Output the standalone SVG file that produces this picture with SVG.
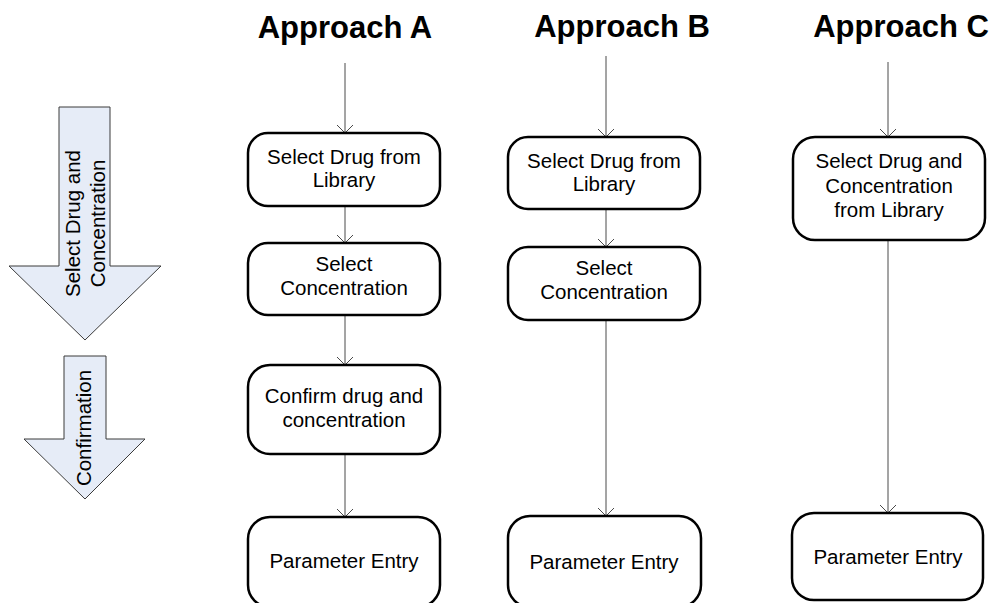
<svg xmlns="http://www.w3.org/2000/svg" width="994" height="603" viewBox="0 0 994 603">
<style>
text{font-family:"Liberation Sans",Arial,sans-serif;fill:#000}
.t{font-size:31px;font-weight:bold;text-anchor:middle}
.l{font-size:20.5px;text-anchor:middle}
.box{fill:#fff;stroke:#000;stroke-width:2.5}
.big{fill:#E6ECF7;stroke:#3a3a3a;stroke-width:1}
.c{stroke:#4a4a4a;stroke-width:1;fill:none;marker-end:url(#ah)}
</style>
<defs>
<marker id="ah" markerUnits="userSpaceOnUse" viewBox="-1 -10 12 20" refX="9" refY="0" markerWidth="12" markerHeight="20" orient="auto" overflow="visible">
<path d="M1,-8 L9,0 L1,8" fill="none" stroke="#4a4a4a" stroke-width="1"/>
</marker>
</defs>
<rect width="994" height="603" fill="#fff"/>

<g id="phase1">
<path class="big" d="M59,107 L110,107 L110,266 L161,266 L85,340 L9,266 L59,266 Z"/>
<text class="l" transform="translate(80,223.5) rotate(-90)">Select Drug and</text>
<text class="l" transform="translate(105,223.5) rotate(-90)">Concentration</text>
</g>
<g id="phase2">
<path class="big" d="M64,356 L106,356 L106,439 L145,439 L85,499 L24,439 L64,439 Z"/>
<text class="l" transform="translate(91,428) rotate(-90)">Confirmation</text>
</g>

<g id="titles">
<text class="t" x="345" y="38">Approach A</text>
<text class="t" x="622" y="37">Approach B</text>
<text class="t" x="901" y="37">Approach C</text>
</g>

<g id="connectors">
<line class="c" x1="345" y1="63" x2="345" y2="133"/>
<line class="c" x1="345" y1="206" x2="345" y2="243"/>
<line class="c" x1="345" y1="315" x2="345" y2="365"/>
<line class="c" x1="345" y1="454" x2="345" y2="517"/>
<line class="c" x1="606" y1="56" x2="606" y2="137"/>
<line class="c" x1="606" y1="209" x2="606" y2="247"/>
<line class="c" x1="606" y1="320" x2="606" y2="516"/>
<line class="c" x1="888" y1="62" x2="888" y2="137"/>
<line class="c" x1="888" y1="240" x2="888" y2="513"/>
</g>

<g id="a1"><rect class="box" x="248" y="133" width="192" height="73" rx="20"/>
<text class="l" x="344" y="164">Select Drug from</text><text class="l" x="344" y="187">Library</text></g>
<g id="a2"><rect class="box" x="248" y="243" width="192" height="72" rx="20"/>
<text class="l" x="344" y="271">Select</text><text class="l" x="344" y="295">Concentration</text></g>
<g id="a3"><rect class="box" x="248" y="365" width="192" height="89" rx="22"/>
<text class="l" x="344" y="403">Confirm drug and</text><text class="l" x="344" y="427">concentration</text></g>
<g id="a4"><rect class="box" x="248" y="517" width="192" height="90" rx="22"/>
<text class="l" x="344" y="568">Parameter Entry</text></g>

<g id="b1"><rect class="box" x="508" y="137" width="192" height="72" rx="20"/>
<text class="l" x="604" y="168">Select Drug from</text><text class="l" x="604" y="191">Library</text></g>
<g id="b2"><rect class="box" x="508" y="247" width="192" height="73" rx="20"/>
<text class="l" x="604" y="275">Select</text><text class="l" x="604" y="299">Concentration</text></g>
<g id="b4"><rect class="box" x="508" y="516" width="193" height="91" rx="22"/>
<text class="l" x="604" y="569">Parameter Entry</text></g>

<g id="c1"><rect class="box" x="793" y="137" width="192" height="103" rx="22"/>
<text class="l" x="889" y="168">Select Drug and</text><text class="l" x="889" y="192.5">Concentration</text><text class="l" x="889" y="217">from Library</text></g>
<g id="c4"><rect class="box" x="792" y="513" width="191" height="87" rx="22"/>
<text class="l" x="888" y="564">Parameter Entry</text></g>
</svg>
